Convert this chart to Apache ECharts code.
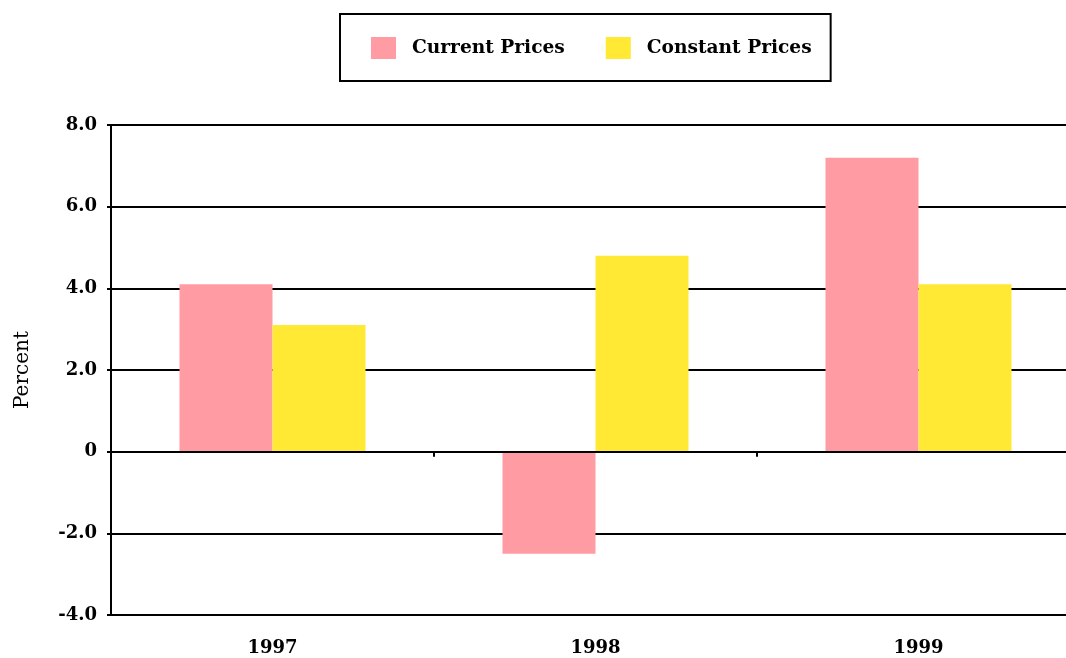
<!DOCTYPE html>
<html>
<head>
<meta charset="utf-8">
<script src="https://cdn.jsdelivr.net/npm/echarts@6/dist/echarts.min.js"></script>
<style>html,body{margin:0;padding:0;background:#fff;overflow:hidden}#c{width:1080px;height:658px}</style>
</head>
<body>
<div id="c"></div>
<script>
const categories = ['1997', '1998', '1999'];
const currentPrices = [4.1, -2.5, 7.2];
const constantPrices = [3.1, 4.8, 4.1];
const seriesNames = ['Current Prices', 'Constant Prices'];
const yMin = -4, yMax = 8, yStep = 2;

const font = '"DejaVu Serif", serif';
const chart = echarts.init(document.getElementById('c'));
chart.setOption({
  animation: false,
  backgroundColor: '#fff',
  legend: {
    data: seriesNames,
    left: 340, top: 14,
    orient: 'horizontal',
    padding: [23, 19, 22, 31],
    itemWidth: 25, itemHeight: 22, itemGap: 41,
    borderColor: '#000', borderWidth: 2,
    icon: 'rect',
    textStyle: { fontFamily: font, fontSize: 18.6, fontWeight: 'bold', color: '#000', padding: [0, 0, 0, 11] }
  },
  grid: { left: 111, top: 125, right: 0, bottom: 43, containLabel: false },
  xAxis: [
    {
      type: 'category', data: categories, z: 5,
      axisLine: { onZero: true, lineStyle: { color: '#000', width: 2 } },
      axisTick: { show: true, length: 5, lineStyle: { color: '#000', width: 2 } },
      axisLabel: { show: false },
      splitLine: { show: false }
    },
    {
      type: 'category', data: categories, position: 'bottom',
      axisLine: { show: false, onZero: false },
      axisTick: { show: false },
      axisLabel: { show: true, margin: 24, fontFamily: font, fontSize: 18, fontWeight: 'bold', color: '#000' },
      splitLine: { show: false }
    }
  ],
  yAxis: {
    type: 'value', min: yMin, max: yMax, interval: yStep,
    name: 'Percent', nameLocation: 'middle', nameGap: 78, nameRotate: 90,
    nameTextStyle: { fontFamily: font, fontSize: 20, color: '#000' },
    axisLine: { show: true, lineStyle: { color: '#000', width: 2 } },
    axisTick: { show: true, length: 4, lineStyle: { color: '#000', width: 2 } },
    axisLabel: {
      margin: 14, fontFamily: font, fontSize: 18, fontWeight: 'bold', color: '#000',
      formatter: v => v === 0 ? '0' : v.toFixed(1)
    },
    splitLine: { show: true, lineStyle: { color: '#000', width: 2 } }
  },
  series: [
    { name: seriesNames[0], type: 'bar', xAxisIndex: 0, data: currentPrices, barWidth: 93, barGap: '0%', itemStyle: { color: '#FF9BA3' } },
    { name: seriesNames[1], type: 'bar', xAxisIndex: 0, data: constantPrices, barWidth: 93, barGap: '0%', itemStyle: { color: '#FFE935' } }
  ]
});
</script>
</body>
</html>
